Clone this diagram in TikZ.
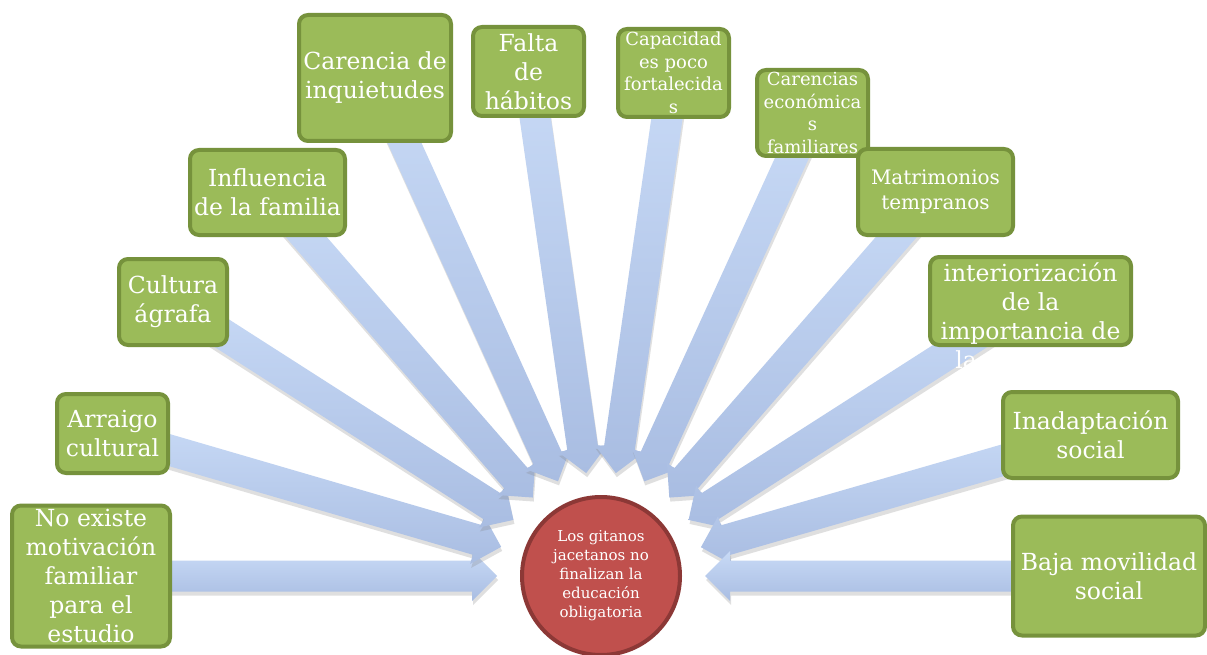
\documentclass[tikz,border=0pt]{standalone}
\usepackage{fontspec}
\setmainfont{DejaVu Serif}
\usetikzlibrary{calc,shadows}
\definecolor{boxfill}{HTML}{9BBB59}
\definecolor{boxline}{HTML}{76923C}
\definecolor{circfill}{HTML}{C0504D}
\definecolor{circline}{HTML}{8C3836}
\definecolor{arrtop}{HTML}{C8DAF6}
\definecolor{arrbot}{HTML}{A9BDE2}
\pgfdeclarelayer{bg}
\pgfsetlayers{bg,main}
\tikzset{
  cbox/.style={draw=boxline, fill=boxfill, line width=4pt, rounded corners=9pt,
    text=white, align=center, inner sep=0pt},
  bigtxt/.style={font=\fontsize{23.5}{29}\selectfont},
  midtxt/.style={font=\fontsize{20}{25}\selectfont},
  smalltxt/.style={font=\fontsize{18}{22.5}\selectfont},
  blockarr/.style={top color=arrtop, bottom color=arrbot,
    drop shadow={opacity=0.25, shadow xshift=1pt, shadow yshift=-4pt}},
}
\newcommand\blockarrow[2]{%
  \coordinate (tp) at ($(#2)!104pt!(#1)$);
  \coordinate (nk) at ($(tp)!25pt!(#1)$);
  \path[blockarr] ($(#1)!15.5pt!90:(tp)$) -- ($(nk)!15.5pt!-90:(#1)$)
    -- ($(nk)!25pt!-90:(#1)$) -- (tp) -- ($(nk)!25pt!90:(#1)$)
    -- ($(nk)!15.5pt!90:(#1)$) -- ($(#1)!15.5pt!-90:(tp)$) -- cycle;}
\begin{document}
\begin{tikzpicture}[x=1pt,y=-1pt]
\useasboundingbox (0,0) rectangle (1207,655);
% centre
\node[circle, draw=circline, fill=circfill, line width=4pt, minimum size=158pt,
  inner sep=0pt, text=white, align=center, font=\fontsize{15}{19}\selectfont]
  (c) at (601,576) {Los gitanos\\jacetanos no\\finalizan la\\educación\\obligatoria};
% boxes
\node[cbox, bigtxt, minimum width=158pt, minimum height=141pt] (b1) at (91,576)
  {No existe\\motivación\\familiar\\para el\\estudio};
\node[cbox, bigtxt, minimum width=111pt, minimum height=79pt] (b2) at (112.5,433.5)
  {Arraigo\\cultural};
\node[cbox, bigtxt, minimum width=108pt, minimum height=86pt] (b3) at (173,302)
  {Cultura\\ágrafa};
\node[cbox, bigtxt, minimum width=155pt, minimum height=85pt] (b4) at (267.5,192.5)
  {Influencia\\de la familia};
\node[cbox, bigtxt, minimum width=152pt, minimum height=126pt] (b5) at (375,78)
  {Carencia de\\inquietudes};
\node[cbox, bigtxt, minimum width=111pt, minimum height=89pt] (b6) at (528.5,71.5)
  {Falta\\de\\hábitos};
\node[cbox, smalltxt, minimum width=111pt, minimum height=88pt] (b7) at (673.5,73)
  {Capacidad\\es poco\\fortalecida\\s};
\node[cbox, smalltxt, minimum width=111pt, minimum height=86pt] (b8) at (812.5,113)
  {Carencias\\económica\\s\\familiares};
\node[cbox, midtxt, minimum width=155pt, minimum height=86pt] (b9) at (935.5,192)
  {Matrimonios\\tempranos};
\node[cbox, minimum width=201pt, minimum height=88pt] (b10) at (1030.5,301) {};
\node[text=white, align=center, bigtxt, inner sep=0pt] (t10) at (1030.5,316)
  {interiorización\\de la\\importancia de\\la educación};
\node[cbox, bigtxt, minimum width=175pt, minimum height=86pt] (b11) at (1090.5,435)
  {Inadaptación\\social};
\node[cbox, bigtxt, minimum width=192pt, minimum height=119pt] (b12) at (1109,576)
  {Baja movilidad\\social};
% arrows
\begin{pgfonlayer}{bg}
\fill[white] (0,0) rectangle (1207,655);
\foreach \b in {b1,b2,b3,b4,b5,b6,b7,b8,b9,b10,b11,b12}{\blockarrow{\b}{c}}
\end{pgfonlayer}
\end{tikzpicture}
\end{document}
